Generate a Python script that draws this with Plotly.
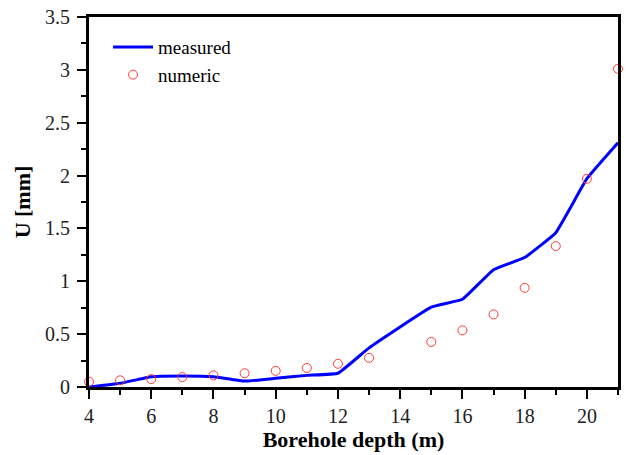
import plotly.graph_objects as go

depth_measured = [4, 5, 6, 7, 8, 9, 10, 11, 12, 13, 15, 16, 17, 18, 19, 20, 21]
u_measured = [0.0, 0.035, 0.098, 0.105, 0.098, 0.056, 0.082, 0.11, 0.13, 0.37, 0.755, 0.83, 1.11, 1.225, 1.46, 1.97, 2.31]

depth_numeric = [4, 5, 6, 7, 8, 9, 10, 11, 12, 13, 15, 16, 17, 18, 19, 20, 21]
u_numeric = [0.05, 0.063, 0.075, 0.094, 0.11, 0.13, 0.153, 0.18, 0.22, 0.276, 0.426, 0.536, 0.687, 0.938, 1.333, 1.97, 3.01]

x_ticks = [4, 6, 8, 10, 12, 14, 16, 18, 20]
y_ticks = [0, 0.5, 1, 1.5, 2, 2.5, 3, 3.5]
y_tick_labels = ["0", "0.5", "1", "1.5", "2", "2.5", "3", "3.5"]

font_family = "Liberation Serif, Times New Roman, serif"

fig = go.Figure()
fig.add_trace(go.Scatter(
    x=depth_measured, y=u_measured, mode="lines", name="measured",
    line=dict(color="#0000ff", width=3, shape="spline", smoothing=0.3),
    cliponaxis=False,
))
fig.add_trace(go.Scatter(
    x=depth_numeric, y=u_numeric, mode="markers", name="numeric",
    marker=dict(symbol="circle-open", color="#ff3b3b", size=9, line=dict(width=1)),
    cliponaxis=False,
))

axis_common = dict(
    showline=True, linecolor="black", linewidth=3, mirror=True,
    ticks="outside", tickcolor="black", tickwidth=1.5, ticklen=9,
    showgrid=False, zeroline=False,
    tickfont=dict(family=font_family, size=20, color="#222222"),
)

fig.update_xaxes(
    range=[4, 21], tickvals=x_ticks,
    minor=dict(ticks="outside", dtick=1, tick0=4, ticklen=5, tickcolor="black", tickwidth=1.5),
    title=dict(text="<b>Borehole depth (m)</b>", font=dict(family=font_family, size=22, color="black"), standoff=6),
    **axis_common,
)
fig.update_yaxes(
    range=[0, 3.5], tickvals=y_ticks, ticktext=y_tick_labels,
    minor=dict(ticks="outside", dtick=0.25, tick0=0, ticklen=5, tickcolor="black", tickwidth=1.5),
    title=dict(text="<b>U [mm]</b>", font=dict(family=font_family, size=22, color="black"), standoff=9),
    ticklabelstandoff=3,
    **axis_common,
)

fig.update_layout(
    width=627, height=455,
    margin=dict(l=89, r=6, t=15, b=68),
    paper_bgcolor="white", plot_bgcolor="white",
    showlegend=True,
    legend=dict(
        x=0.036, y=0.97, xanchor="left", yanchor="top",
        bgcolor="rgba(0,0,0,0)",
        font=dict(family=font_family, size=19, color="black"),
        itemwidth=40, tracegroupgap=2,
    ),
)

fig.write_html("out.html")
